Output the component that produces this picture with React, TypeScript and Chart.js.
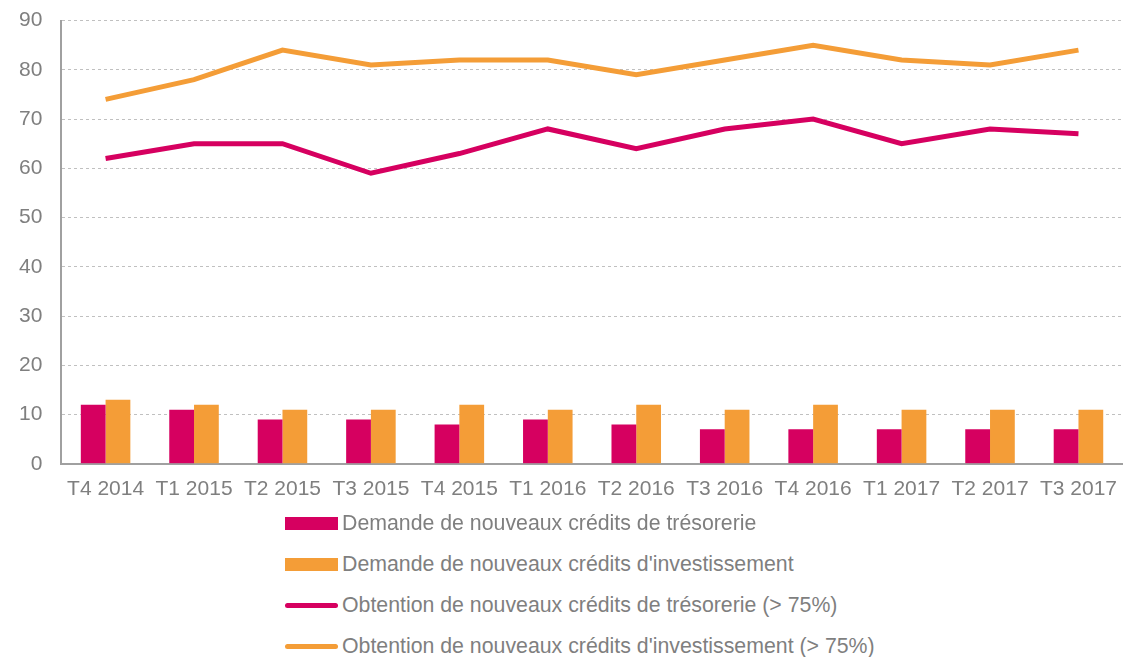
import React, { useEffect, useRef } from "react";
import { Chart, registerables } from "chart.js";

Chart.register(...registerables);

const categories = ["T4 2014", "T1 2015", "T2 2015", "T3 2015", "T4 2015", "T1 2016", "T2 2016", "T3 2016", "T4 2016", "T1 2017", "T2 2017", "T3 2017"];
const demandeTresorerie = [12, 11, 9, 9, 8, 9, 8, 7, 7, 7, 7, 7];
const demandeInvestissement = [13, 12, 11, 11, 12, 11, 12, 11, 12, 11, 11, 11];
const obtentionTresorerie = [62, 65, 65, 59, 63, 68, 64, 68, 70, 65, 68, 67];
const obtentionInvestissement = [74, 78, 84, 81, 82, 82, 79, 82, 85, 82, 81, 84];
const yTicks = [0, 10, 20, 30, 40, 50, 60, 70, 80, 90];

const MAGENTA = "#d60060";
const ORANGE = "#f49d37";
const TEXT = "#7f7f7f";
const FONT = "'Liberation Sans', Arial, sans-serif";

const legendItems = [
  { label: "Demande de nouveaux crédits de trésorerie", color: MAGENTA, type: "bar" },
  { label: "Demande de nouveaux crédits d'investissement", color: ORANGE, type: "bar" },
  { label: "Obtention de nouveaux crédits de trésorerie (> 75%)", color: MAGENTA, type: "line" },
  { label: "Obtention de nouveaux crédits d'investissement (> 75%)", color: ORANGE, type: "line" },
];

export default function App() {
  const ref = useRef<HTMLCanvasElement>(null);
  useEffect(() => {
    if (!ref.current) return;
    const chart = new Chart(ref.current, {
      type: "bar",
      data: {
        labels: categories,
        datasets: [
          { type: "line", label: legendItems[2].label, data: obtentionTresorerie, borderColor: MAGENTA, backgroundColor: MAGENTA, borderWidth: 5, pointRadius: 0, tension: 0, order: 0 } as any,
          { type: "line", label: legendItems[3].label, data: obtentionInvestissement, borderColor: ORANGE, backgroundColor: ORANGE, borderWidth: 5, pointRadius: 0, tension: 0, order: 0 } as any,
          { type: "bar", label: legendItems[0].label, data: demandeTresorerie, backgroundColor: MAGENTA, barPercentage: 1, categoryPercentage: 0.56, order: 1 },
          { type: "bar", label: legendItems[1].label, data: demandeInvestissement, backgroundColor: ORANGE, barPercentage: 1, categoryPercentage: 0.56, order: 1 },
        ],
      },
      options: {
        animation: false,
        responsive: false,
        maintainAspectRatio: false,
        layout: { padding: { left: 0, right: 0, top: 8, bottom: 0 } },
        plugins: { legend: { display: false }, tooltip: { enabled: false } },
        scales: {
          x: {
            grid: { display: false, drawTicks: false },
            border: { display: true, color: "#a0a0a0", width: 2 },
            ticks: { color: TEXT, font: { family: FONT, size: 21 }, padding: 13, maxRotation: 0, autoSkip: false },
          },
          y: {
            min: 0,
            max: 90,
            afterBuildTicks: (axis: any) => { axis.ticks = yTicks.map((v) => ({ value: v })); },
            grid: { color: "#c0c0c0", drawTicks: false, lineWidth: 1 },
            border: { display: true, color: "#a0a0a0", width: 2, dash: [3, 3] },
            ticks: { color: TEXT, font: { family: FONT, size: 21 }, padding: 19 },
          },
        },
      },
    });
    return () => chart.destroy();
  }, []);

  return (
    <div style={{ position: "absolute", left: 0, top: 0, width: 1130, height: 657, background: "#fff", fontFamily: FONT, overflow: "hidden" }}>
      <canvas ref={ref} width={1130} height={526} style={{ position: "absolute", left: 0, top: -11, width: 1130, height: 526 }} />
      {legendItems.map((it, i) => (
        <div key={i} style={{ position: "absolute", left: 285, top: 523 + i * 41.3 - 14, height: 28, display: "flex", alignItems: "center" }}>
          <div style={{ width: 53, height: it.type === "bar" ? 13 : 5, background: it.color, borderRadius: it.type === "line" ? 2.5 : 0 }} />
          <span style={{ marginLeft: 4, color: TEXT, fontSize: 21.3, whiteSpace: "nowrap" }}>{it.label}</span>
        </div>
      ))}
    </div>
  );
}
